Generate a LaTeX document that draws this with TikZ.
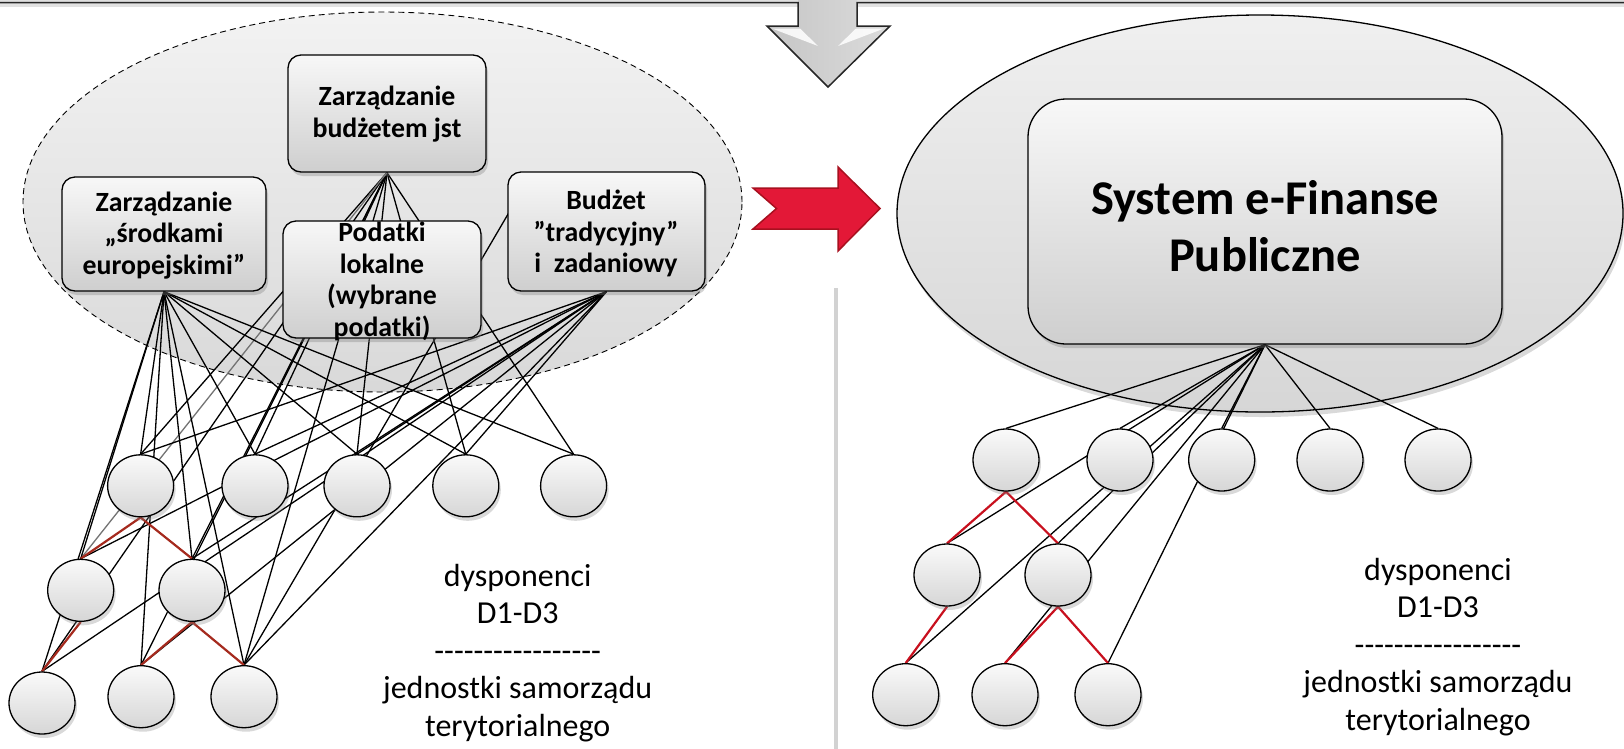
\documentclass[tikz,border=0pt]{standalone}
\usepackage{fontspec}
\setmainfont{Carlito}
\usetikzlibrary{shapes.geometric,shadows}
\pgfdeclarelayer{bg}
\pgfdeclarelayer{lines}
\pgfsetlayers{bg,lines,main}
\definecolor{redarrow}{HTML}{E31837}
\definecolor{redarrowdark}{HTML}{A8101F}
\definecolor{treeredL}{HTML}{A52A1E}
\definecolor{treeredR}{HTML}{C8101E}
\newcommand{\hy}{\mbox{-}}
\begin{document}
\begin{tikzpicture}[x=1pt,y=-1pt,
  conn/.style={black, line width=1.3pt},
  redL/.style={color=treeredL, line width=2.2pt},
  redR/.style={color=treeredR, line width=2.2pt},
  circ/.style={ellipse, draw=black, line width=1.3pt, minimum width=66pt, minimum height=62pt, inner sep=0pt,
    top color=gray!4, bottom color=gray!32,
    drop shadow={opacity=0.3, shadow xshift=2pt, shadow yshift=-4pt}},
  box/.style={draw=black, line width=1.3pt, rounded corners=13pt, inner sep=0pt,
    top color=gray!6, bottom color=gray!38,
    drop shadow={opacity=0.35, shadow xshift=2pt, shadow yshift=-4pt}},
  boxtext/.style={align=center, inner sep=0pt, font=\fontsize{27.8}{31.6}\selectfont\bfseries},
  bigtext/.style={align=center, inner sep=0pt, font=\fontsize{48.5}{57}\selectfont\bfseries},
  labeltext/.style={align=center, inner sep=0pt, font=\fontsize{32}{37.6}\selectfont},
  group/.style={ellipse, inner sep=0pt}
]
\useasboundingbox (0,0) rectangle (1624,748);

% ---------- background groups ----------
\begin{pgfonlayer}{bg}
\node[group, draw=black, line width=0.9pt, dash pattern=on 6pt off 4pt,
  top color=gray!10, bottom color=gray!30,
  minimum width=719pt, minimum height=380pt] (grpL) at (382.5,202) {};
\node[group, draw=black, line width=1.3pt,
  top color=gray!12, bottom color=gray!32,
  drop shadow={opacity=0.3, shadow xshift=2pt, shadow yshift=-5pt},
  minimum width=726pt, minimum height=397pt] (grpR) at (1260,213.5) {};
\end{pgfonlayer}

% ---------- top strip with down arrow ----------
\fill[gray!25] (-5,-10) rectangle (1630,2.5);
\fill[gray!50, opacity=0.45] (-5,2.5) rectangle (798,7);
\fill[gray!50, opacity=0.45] (857,2.5) rectangle (1630,7);
\shade[left color=gray!45, middle color=gray!8, right color=gray!28]
  (798,0) -- (798,26) -- (767,26) -- (828,87) -- (890,26) -- (857,26) -- (857,0) -- cycle;
\fill[white, opacity=0.85] (772,28.5) -- (800,28.5) -- (818,46) -- cycle;
\fill[white, opacity=0.85] (884,28.5) -- (856,28.5) -- (838,46) -- cycle;
\draw[line width=1.5pt, black!85, line join=miter]
  (-5,2.5) -- (798,2.5) -- (798,26) -- (767,26) -- (828,87) -- (890,26) -- (857,26) -- (857,2.5) -- (1630,2.5);

% ---------- red arrow ----------
\draw[fill=redarrow, draw=redarrowdark, line width=1.5pt, line join=miter]
  (753,188) -- (838,188) -- (838,167) -- (880,208.5) -- (838,251) -- (838,229) -- (753,229) -- (776.5,208.5) -- cycle;

% ---------- separator ----------
\draw[gray!35, line width=4pt] (836,288) -- (836,752);

% ---------- left circles ----------
\node[circ] (L1) at (140.6,485.8) {};
\node[circ] (L2) at (255,485.8) {};
\node[circ] (L3) at (357,485.8) {};
\node[circ] (L4) at (465.8,485.8) {};
\node[circ] (L5) at (573.6,485.8) {};
\node[circ] (LA) at (80.7,590.3) {};
\node[circ] (LB) at (192,590.3) {};
\node[circ] (LC) at (42,703) {};
\node[circ] (LD) at (141,696.7) {};
\node[circ] (LE) at (244,696.7) {};

% ---------- right circles ----------
\node[circ] (R1) at (1006,460) {};
\node[circ] (R2) at (1120,460) {};
\node[circ] (R3) at (1221.7,460) {};
\node[circ] (R4) at (1330,460) {};
\node[circ] (R5) at (1438,460) {};
\node[circ] (RA) at (947,575) {};
\node[circ] (RB) at (1058,575) {};
\node[circ] (RC) at (905.7,694.7) {};
\node[circ] (RD) at (1005,694.7) {};
\node[circ] (RE) at (1108,694.7) {};

% ---------- left boxes ----------
\node[box, minimum width=198pt, minimum height=117pt] (B1) at (387,113.5) {};
\node[boxtext] (B1t) at (387,114) {Zarządzanie\\budżetem jst};
\node[box, minimum width=204pt, minimum height=114pt] (B2) at (164,234) {};
\node[boxtext] (B2t) at (164,235.5) {Zarządzanie\\„środkami\\europejskimi”};
\node[box, minimum width=197pt, minimum height=119pt] (B4) at (606.5,231.5) {};
\node[boxtext] (B4t) at (606,233.5) {Budżet\\”tradycyjny”\\i~~zadaniowy};
\node[box, minimum width=198pt, minimum height=117pt] (B3) at (382,279.5) {};
\node[boxtext] (B3t) at (382,281.5) {Podatki\\lokalne\\(wybrane\\podatki)};

% ---------- right box ----------
\node[box, rounded corners=38pt, minimum width=474pt, minimum height=245pt] (EF) at (1265,221.5) {};
\node[bigtext] (EFt) at (1265,226) {System e-Finanse\\Publiczne};

% ---------- labels ----------
\node[labeltext] (TL) at (517.7,653) {dysponenci\\D1-D3\\\hy\hy\hy\hy\hy\hy\hy\hy\hy\hy\hy\hy\hy\hy\hy\hy\hy\\jednostki samorządu\\terytorialnego};
\node[labeltext] (TR) at (1438,647) {dysponenci\\D1-D3\\\hy\hy\hy\hy\hy\hy\hy\hy\hy\hy\hy\hy\hy\hy\hy\hy\hy\\jednostki samorządu\\terytorialnego};

% ---------- connectors ----------
\coordinate (H4) at (528,180);
\begin{pgfonlayer}{lines}
\foreach \t in {L1,L2,L3,L4,L5,LB,LC,LD,LE} \draw[conn] (B1.south) -- (\t.north);
\draw[conn, black!55] (B1.south) -- (LA.north);
\foreach \t in {L1,L2,L3,L4,L5,LA,LB,LC,LD,LE} \draw[conn] (B2.south) -- (\t.north);
\foreach \t in {L1,L2,L3,L4,LA,LB,LC,LD,LE} \draw[conn] (B4.south) -- (\t.north);
\draw[conn] (H4) -- (LE.north);
\draw[redL] (L1.south) -- (LA.north);
\draw[redL] (L1.south) -- (LB.north);
\draw[redL] (LA.south) -- (LC.north);
\draw[redL] (LB.south) -- (LD.north);
\draw[redL] (LB.south) -- (LE.north);
\foreach \t in {R1,R2,R3,R4,R5,RA,RB,RC,RD,RE} \draw[conn] (EF.south) -- (\t.north);
\draw[redR] (R1.south) -- (RA.north);
\draw[redR] (R1.south) -- (RB.north);
\draw[redR] (RA.south) -- (RC.north);
\draw[redR] (RB.south) -- (RD.north);
\draw[redR] (RB.south) -- (RE.north);
\end{pgfonlayer}
\end{tikzpicture}
\end{document}
